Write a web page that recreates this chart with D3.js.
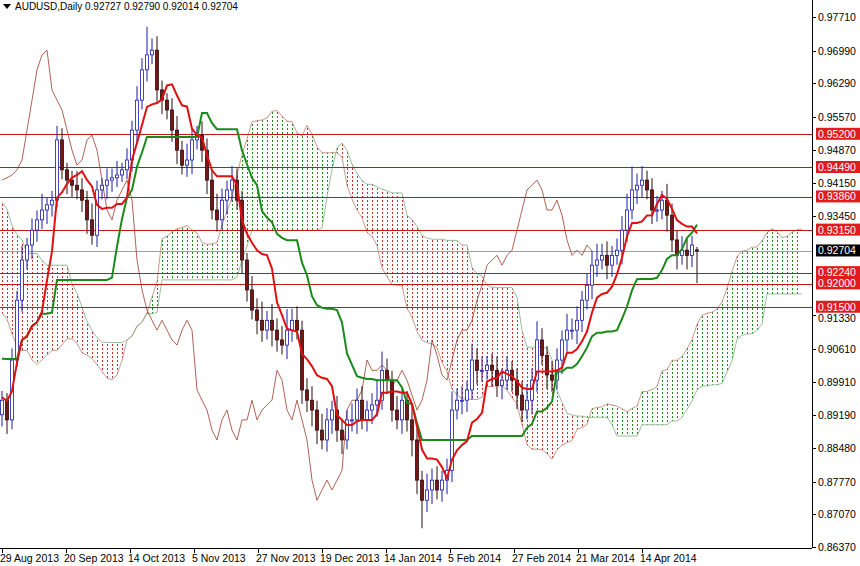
<!doctype html>
<html lang="en">
<head>
<meta charset="utf-8">
<title>AUDUSD Daily</title>
<style>
  body { margin: 0; background: #fff; font-family: "Liberation Sans", Arial, sans-serif; }
  text { font-size: 10.5px; fill: #000; }
  .lvl-text { fill: #fff; }
</style>
</head>
<body>
<script src="https://d3js.org/d3.v7.min.js"></script>
<script>
// prior bars, only used for the indicator windows (cloud, kijun) at the left edge
const history = [0.975,0.972,0.968,0.965,0.969,0.962,0.958,0.963,0.960,0.955,0.952,0.948,0.955,0.958,0.950,0.946,0.940,0.934,0.930,0.927,0.923,0.918,0.915,0.920,0.914,0.910,0.905,0.912,0.916,0.910,0.904,0.900,0.906,0.912,0.918,0.922,0.925,0.920,0.916,0.913,0.918,0.910,0.905,0.900,0.896,0.892,0.890,0.895,0.900,0.906,0.910,0.914,0.918,0.915,0.910,0.905,0.900,0.896,0.893,0.897,0.900,0.894,0.892];

const closes = [0.8951,0.8909,0.9037,0.9165,0.9251,0.9283,0.9315,0.9337,0.9358,0.9369,
  0.9379,0.9508,0.9444,0.9422,0.9411,0.9401,0.9379,0.9337,0.9304,0.9401,
  0.9411,0.9422,0.9427,0.9433,0.9444,0.9465,0.9529,0.9593,0.9658,0.9690,
  0.9700,0.9615,0.9593,0.9572,0.9529,0.9486,0.9454,0.9465,0.9508,0.9518,
  0.9486,0.9422,0.9358,0.9337,0.9379,0.9401,0.9422,0.9379,0.9251,0.9187,
  0.9144,0.9122,0.9101,0.9122,0.9101,0.9080,0.9069,0.9101,0.9122,0.9101,
  0.8973,0.8951,0.8930,0.8887,0.8866,0.8909,0.8930,0.8887,0.8866,0.8909,
  0.8909,0.8951,0.8909,0.8930,0.8941,0.8951,0.9015,0.8994,0.8930,0.8909,
  0.8951,0.8909,0.8866,0.8780,0.8737,0.8759,0.8780,0.8759,0.8780,0.8801,
  0.8930,0.8951,0.8951,0.8973,0.9037,0.9015,0.9015,0.9026,0.9015,0.8983,
  0.8994,0.9015,0.8994,0.8962,0.8930,0.8951,0.8994,0.9080,0.9047,0.9005,
  0.8994,0.9037,0.9080,0.9101,0.9101,0.9122,0.9165,0.9197,0.9240,0.9251,
  0.9261,0.9240,0.9261,0.9272,0.9315,0.9358,0.9401,0.9411,0.9422,0.9401,
  0.9358,0.9358,0.9379,0.9347,0.9294,0.9261,0.9272,0.9261,0.9283,0.92704];
// wick lengths in pips
const wickUp = [20,15,25,20,30,15,25,20,35,15,20,30,25,15,20,30,25,20,35,20,
  15,25,20,30,15,25,20,30,25,60,25,30,20,15,25,30,20,35,25,20,
  30,25,20,35,25,20,30,25,20,15,30,25,40,20,35,25,30,45,25,30,
  20,25,30,20,35,25,20,30,25,20,35,25,30,20,25,45,40,25,20,30,
  25,20,30,25,20,35,25,30,20,25,40,25,30,20,35,25,30,20,25,30,
  25,30,20,25,30,35,25,40,25,20,30,25,20,35,25,30,20,25,30,35,
  25,30,20,25,30,35,50,25,30,20,25,30,20,35,25,20,30,25,20,9];
const wickDn = [25,30,20,15,25,20,30,25,20,30,25,15,20,30,25,20,25,30,20,25,
  20,30,25,20,15,20,25,30,20,25,20,25,30,20,25,30,20,25,30,20,
  25,30,20,25,20,30,25,20,30,25,20,30,25,20,35,25,20,30,25,20,
  30,25,35,30,20,25,30,25,30,20,25,30,20,25,30,25,20,30,25,20,
  30,25,35,30,60,25,30,20,25,30,25,20,30,25,20,30,25,20,35,25,
  30,20,25,30,25,20,30,25,20,30,25,20,30,25,20,30,25,20,30,25,
  20,30,25,20,30,25,20,30,25,20,30,25,20,35,25,30,20,30,25,69];

const header = "AUDUSD,Daily  0.92727 0.92790 0.92014 0.92704";
const levels = [0.9520, 0.9449, 0.9386, 0.9315, 0.9224, 0.9200, 0.9150];
const lastPrice = 0.92704;
const priceTicks = [0.97710,0.96990,0.96290,0.95570,0.94870,0.94150,0.93450,0.91330,0.90610,0.89910,0.89190,0.88480,0.87770,0.87070,0.86370];
const dateLabels = ["29 Aug 2013","20 Sep 2013","14 Oct 2013","5 Nov 2013","27 Nov 2013","19 Dec 2013","14 Jan 2014","5 Feb 2014","27 Feb 2014","21 Mar 2014","14 Apr 2014"];
const dateBars = [0, 12.8, 25.6, 38.4, 51.2, 64, 76.8, 89.6, 102.4, 115.2, 128];
const tenkanN = 7, kijunN = 21, spanBN = 42, shift = 21;

const W = 860, H = 566, plotR = 812, plotB = 548;
const svg = d3.select("body").append("svg").attr("width", W).attr("height", H);

const y = d3.scaleLinear().domain([0.86370, 0.97710]).range([547, 17]);
const x = d3.scaleLinear().domain([0, 139]).range([2, 697]);
const crisp = v => Math.round(v) + 0.5;

// bars incl. history
const all = history.concat(closes);
const off = history.length;
const bars = all.map((c, i) => {
  const o = i === 0 ? c : all[i - 1];
  const j = i - off;
  const up = j >= 0 ? wickUp[j] : 20, dn = j >= 0 ? wickDn[j] : 20;
  return { o: j === closes.length - 1 ? 0.92727 : o, c,
           h: Math.max(o, c) + up / 10000, l: Math.min(o, c) - dn / 10000 };
});
bars[all.length - 1].h = 0.92790; bars[all.length - 1].l = 0.92014;

function mid(end, n) {
  const s = bars.slice(Math.max(0, end - n + 1), end + 1);
  return (d3.max(s, d => d.h) + d3.min(s, d => d.l)) / 2;
}
const tenkan = [], kijun = [];
for (let j = 0; j < closes.length; j++) {
  tenkan.push({ i: j, v: mid(j + off, tenkanN) });
  kijun.push({ i: j, v: mid(j + off, kijunN) });
}
const cloud = [];
for (let j = 0; j < closes.length + shift; j++) {
  const k = j + off - shift;
  const a = (mid(k, tenkanN) + mid(k, kijunN)) / 2;
  const b = mid(k, spanBN);
  cloud.push({ i: j, a, b });
}
const chikou = closes.slice(shift).map((v, j) => ({ i: j, v }));

// patterns
const defs = svg.append("defs");
[["dotRed", "#c83030"], ["dotGreen", "#1f8a1f"]].forEach(([id, col]) => {
  const p = defs.append("pattern").attr("id", id).attr("patternUnits", "userSpaceOnUse")
    .attr("width", 5).attr("height", 4);
  p.append("rect").attr("x", 2).attr("y", 0).attr("width", 1).attr("height", 2).attr("fill", col);
});
defs.append("clipPath").attr("id", "plot").append("rect")
  .attr("x", 0).attr("y", 0).attr("width", plotR).attr("height", plotB);

const g = svg.append("g").attr("clip-path", "url(#plot)");

// cloud
g.append("path").datum(cloud).attr("fill", "url(#dotRed)")
  .attr("d", d3.area().x(d => x(d.i)).y0(d => y(d.a)).y1(d => y(Math.max(d.a, d.b))));
g.append("path").datum(cloud).attr("fill", "url(#dotGreen)")
  .attr("d", d3.area().x(d => x(d.i)).y0(d => y(d.b)).y1(d => y(Math.max(d.a, d.b))));
g.append("path").datum(cloud).attr("fill", "none").attr("stroke", "#c08070").attr("stroke-width", 0.8)
  .attr("d", d3.line().x(d => x(d.i)).y(d => y(d.a)));
g.append("path").datum(cloud).attr("fill", "none").attr("stroke", "#7fb07f").attr("stroke-width", 0.8)
  .attr("d", d3.line().x(d => x(d.i)).y(d => y(d.b)));

// horizontal levels
g.selectAll("line.lvl").data(levels).enter().append("line")
  .attr("x1", 0).attr("x2", plotR).attr("y1", d => crisp(y(d))).attr("y2", d => crisp(y(d)))
  .attr("stroke", "#c01818").attr("stroke-width", 1);
g.append("line").attr("x1", 0).attr("x2", plotR).attr("y1", crisp(y(lastPrice))).attr("y2", crisp(y(lastPrice)))
  .attr("stroke", "#a0a0a0");

// chikou
g.append("path").datum(chikou).attr("fill", "none").attr("stroke", "#9a3a2a").attr("stroke-width", 0.8)
  .attr("d", d3.line().x(d => x(d.i)).y(d => y(d.v)));

// candles
const vis = bars.slice(off).map((d, i) => ({ ...d, i }));
const cg = g.selectAll("g.c").data(vis).enter().append("g");
cg.append("line").attr("x1", d => x(d.i)).attr("x2", d => x(d.i))
  .attr("y1", d => y(d.h)).attr("y2", d => y(d.l))
  .attr("stroke", d => d.c >= d.o ? "#1a1aa8" : "#2a0a0a");
cg.append("rect").attr("x", d => x(d.i) - 1.5).attr("width", 3)
  .attr("y", d => y(Math.max(d.o, d.c))).attr("height", d => Math.max(1, Math.abs(y(d.o) - y(d.c))))
  .attr("fill", d => d.c >= d.o ? "#fff" : "#7a1515")
  .attr("stroke", d => d.c >= d.o ? "#1a1aa8" : "#2a0a0a").attr("stroke-width", 0.8);

// tenkan / kijun
g.append("path").datum(kijun).attr("fill", "none").attr("stroke", "#1a8a1a").attr("stroke-width", 2)
  .attr("d", d3.line().x(d => x(d.i)).y(d => y(d.v)));
g.append("path").datum(tenkan).attr("fill", "none").attr("stroke", "#e01010").attr("stroke-width", 2)
  .attr("d", d3.line().x(d => x(d.i)).y(d => y(d.v)));

// frame
svg.append("line").attr("x1", plotR + 0.5).attr("x2", plotR + 0.5).attr("y1", 0).attr("y2", plotB).attr("stroke", "#000");
svg.append("line").attr("x1", 0).attr("x2", plotR).attr("y1", plotB + 0.5).attr("y2", plotB + 0.5).attr("stroke", "#000");

// price axis
const pt = svg.selectAll("g.pt").data(priceTicks).enter().append("g");
pt.append("line").attr("x1", plotR).attr("x2", plotR + 4).attr("y1", d => crisp(y(d))).attr("y2", d => crisp(y(d))).attr("stroke", "#000");
pt.append("text").attr("x", plotR + 6).attr("y", d => y(d) + 4 + (d === 0.91330 ? 3 : 0)).text(d => d.toFixed(5));

const lv = svg.selectAll("g.lv").data(levels).enter().append("g");
lv.append("rect").attr("x", plotR + 4).attr("y", d => y(d) - 6.5).attr("width", 44).attr("height", 12).attr("fill", "#e01c1c");
lv.append("text").attr("class", "lvl-text").attr("x", plotR + 6).attr("y", d => y(d) + 3.5).text(d => d.toFixed(5));
svg.append("rect").attr("x", plotR + 4).attr("y", y(lastPrice) - 6.5).attr("width", 44).attr("height", 12).attr("fill", "#000");
svg.append("text").attr("class", "lvl-text").attr("x", plotR + 6).attr("y", y(lastPrice) + 3.5).text(lastPrice.toFixed(5));

// date axis
const dt = svg.selectAll("g.dt").data(dateLabels).enter().append("g");
dt.append("line").attr("x1", (d, i) => crisp(x(dateBars[i]))).attr("x2", (d, i) => crisp(x(dateBars[i])))
  .attr("y1", plotB).attr("y2", plotB + 5).attr("stroke", "#000");
dt.append("text").attr("x", (d, i) => x(dateBars[i]) - 2).attr("y", 562).text(d => d);

// header
svg.append("path").attr("d", "M3,4 L11,4 L7,9 Z").attr("fill", "#000");
svg.append("text").attr("x", 15).attr("y", 10).style("font-size", "10px").text(header);
</script>
</body>
</html>
